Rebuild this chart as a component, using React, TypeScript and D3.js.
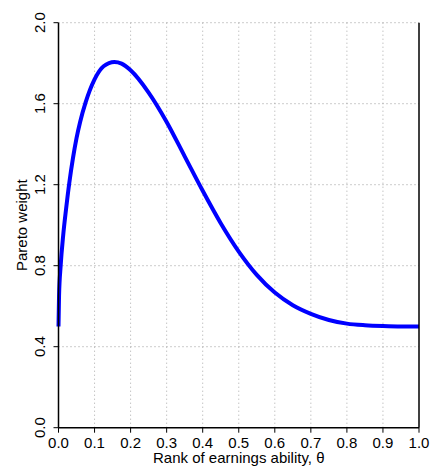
import React from "react";
import * as d3 from "d3";

const theta = [0, 0.0015, 0.006, 0.013, 0.021, 0.03, 0.04, 0.05, 0.06, 0.075, 0.1, 0.125, 0.155, 0.175, 0.2, 0.25, 0.3, 0.35, 0.4, 0.45, 0.5, 0.55, 0.6, 0.65, 0.7, 0.75, 0.8, 0.85, 0.9, 0.95, 1.0];
const weight = [0.5, 0.65, 0.8, 0.95, 1.08, 1.21, 1.33, 1.43, 1.51, 1.605, 1.72, 1.785, 1.806, 1.798, 1.765, 1.655, 1.51, 1.34, 1.17, 1.01, 0.87, 0.755, 0.6675, 0.605, 0.5625, 0.532, 0.514, 0.506, 0.502, 0.5, 0.5];
const xTicks = [0, 0.1, 0.2, 0.3, 0.4, 0.5, 0.6, 0.7, 0.8, 0.9, 1.0];
const yTicks = [0, 0.4, 0.8, 1.2, 1.6, 2.0];
const xTitle = "Rank of earnings ability, θ";
const yTitle = "Pareto weight";

export default function App() {
  const W = 432, H = 466;
  const x = d3.scaleLinear().domain([0, 1]).range([58.5, 419]);
  const y = d3.scaleLinear().domain([0, 2]).range([427.7, 22.7]);
  const pts = theta.map((t, i) => [t, weight[i]] as [number, number]);
  const line = d3.line<[number, number]>().x(d => x(d[0])).y(d => y(d[1])).curve(d3.curveMonotoneX);
  const font = "'Liberation Sans', Arial, Helvetica, sans-serif";
  return (
    <svg width={W} height={H} style={{ position: "absolute", left: 0, top: 0, display: "block", background: "#fff" }} fontFamily={font}>
      {xTicks.filter(t => t > 0 && t < 1).map(t => (
        <line key={"gx" + t} x1={x(t)} x2={x(t)} y1={y(2)} y2={y(0)} stroke="#aaa" strokeWidth={1} strokeDasharray="1,3" />
      ))}
      {yTicks.filter(t => t > 0).map(t => (
        <line key={"gy" + t} x1={x(0)} x2={x(1)} y1={y(t)} y2={y(t)} stroke="#999" strokeWidth={1} strokeDasharray="1,3" />
      ))}
      <path d={line(pts) || ""} fill="none" stroke="#0000ff" strokeWidth={4} strokeLinejoin="round" />
      <line x1={x(0)} x2={x(0)} y1={y(2)} y2={y(0)} stroke="#000" strokeWidth={1.5} />
      <line x1={x(0)} x2={x(1)} y1={y(0)} y2={y(0)} stroke="#000" strokeWidth={1.5} />
      <line x1={x(1)} x2={x(1)} y1={y(2)} y2={y(0)} stroke="#000" strokeWidth={1.5} />
      {xTicks.map(t => (
        <g key={"xt" + t}>
          <line x1={x(t)} x2={x(t)} y1={y(0)} y2={y(0) + 5} stroke="#000" strokeWidth={1} />
          <text x={x(t)} y={447.5} textAnchor="middle" fontSize={15}>{t.toFixed(1)}</text>
        </g>
      ))}
      {yTicks.map(t => (
        <g key={"yt" + t}>
          <line x1={x(0) - 5} x2={x(0)} y1={y(t)} y2={y(t)} stroke="#000" strokeWidth={1} />
          <text transform={`translate(44.5,${y(t)}) rotate(-90)`} textAnchor="middle" fontSize={15}>{t.toFixed(1)}</text>
        </g>
      ))}
      <text x={(x(0) + x(1)) / 2} y={463} textAnchor="middle" fontSize={15}>{xTitle}</text>
      <text transform={`translate(27,${(y(0) + y(2)) / 2}) rotate(-90)`} textAnchor="middle" fontSize={15}>{yTitle}</text>
    </svg>
  );
}
